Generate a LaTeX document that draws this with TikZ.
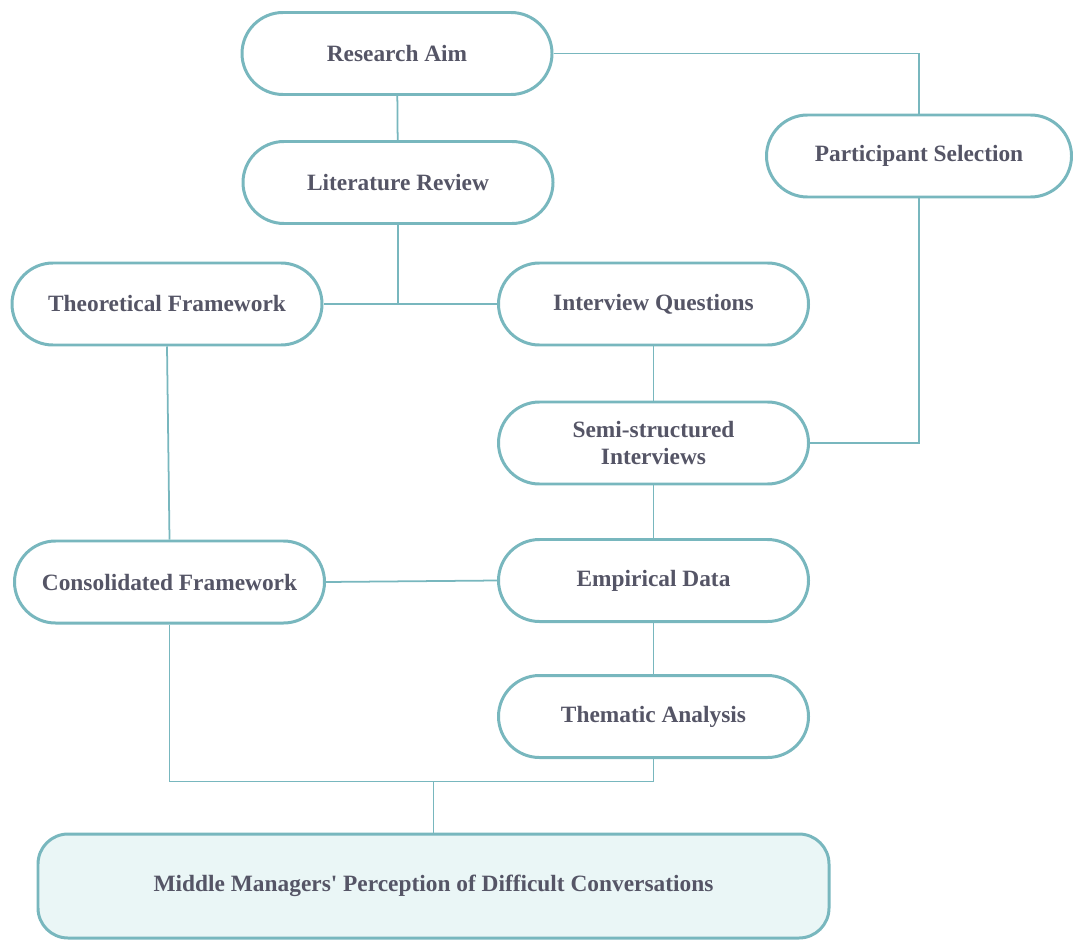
\documentclass[tikz,border=0pt]{standalone}
\usepackage{fontspec}
\setmainfont{Liberation Serif}
\newfontfamily\boxfont{Liberation Serif} % no TeX mapping: keeps the straight apostrophe
\usepackage{xcolor}
\usetikzlibrary{calc}
\definecolor{tealline}{HTML}{78B7BE}
\definecolor{tealfill}{HTML}{EAF6F6}
\definecolor{textgray}{HTML}{555566}

\begin{document}
\begin{tikzpicture}[
			line width=1pt,
			stage/.style={draw=tealline,line width=1.7pt,fill=white,rounded corners=0.82cm,
					minimum width=6.2cm,minimum height=1.64cm,align=center,
					text=textgray,font=\boxfont\fontsize{13.3}{15.5}\selectfont\bfseries}, % pill-shaped step
			result/.style={stage,fill=tealfill,rounded corners=0.6cm,
					minimum width=15.82cm,minimum height=2.08cm}, % final outcome
			link/.style={draw=tealline,line width=1pt}, % plain connector
		]
		\useasboundingbox (0,0) rectangle (21.46,-18.8);

		% --- design steps
		\node[stage] (aim)  at (7.94,-1.07)  {Research Aim};
		\node[stage] (lit)  at (7.96,-3.65)  {Literature Review};
		\node[stage,minimum width=6.1cm] (part) at (18.38,-3.12) {Participant Selection};
		\node[stage] (theo) at (3.34,-6.08)  {Theoretical Framework};
		\node[stage] (intq) at (13.07,-6.08) {Interview Questions};
		\node[stage] (semi) at (13.07,-8.86) {Semi-structured\\Interviews};
		\node[stage] (cons) at (3.39,-11.64) {Consolidated Framework};
		\node[stage] (emp)  at (13.07,-11.61) {Empirical Data};
		\node[stage] (them) at (13.07,-14.33) {Thematic Analysis};
		\node[result] (mid) at (8.67,-17.72) {Middle Managers' Perception of Difficult Conversations};

		% --- junction points
		\coordinate (jlit) at (lit.south |- theo.east);
		\coordinate (jbot) at ($(cons.south)+(0,-3.14)$);

		% --- connectors
		\draw[link] (aim) -- (lit);
		\draw[link] (aim.east) -| (part.north);
		\draw[link] (part.south) |- (semi.east);
		\draw[link] (lit.south) -- (jlit);
		\draw[link] (theo.east) -- (intq.west);
		\foreach \s/\e in {intq/semi, semi/emp, emp/them}{
				\draw[link] (\s) -- (\e);
			}
		\draw[link] (theo.south) -- (cons.north);
		\draw[link] (cons.east) -- (emp.west);
		\draw[link] (cons.south) -- (jbot) -| (them.south);
		\draw[link] (mid.north) -- (mid.north |- jbot);
	\end{tikzpicture}
\end{document}
